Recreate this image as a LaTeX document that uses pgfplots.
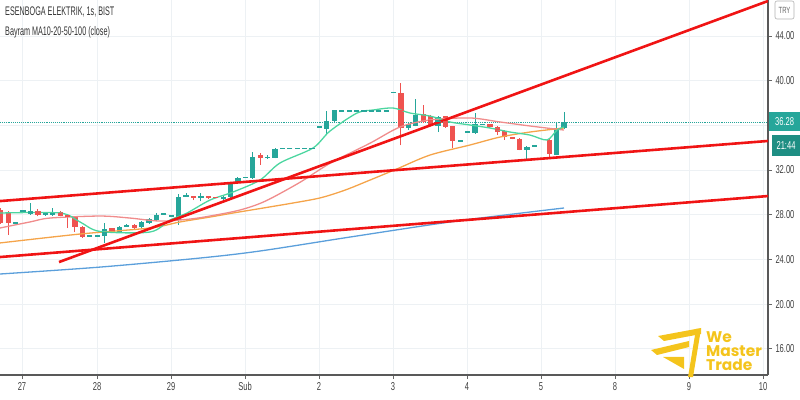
\documentclass[border=0pt]{standalone}
\usepackage{pgfplots}
\usepackage{pgfplotstable}
\pgfplotsset{compat=1.18}
\usepackage{fontspec}
\setmainfont{Liberation Sans}
\newfontfamily\cond[FakeStretch=0.66]{Liberation Sans}
\newfontfamily\condt[FakeStretch=0.58]{Liberation Sans}
\newfontfamily\pop{Poppins}
\newcommand\tickf{\cond\fontsize{11.5}{12}\selectfont}
\definecolor{upc}{HTML}{26A69A}
\definecolor{dnc}{HTML}{EF5350}
\definecolor{ma10}{HTML}{4CD6A0}
\definecolor{ma20}{HTML}{F08C8C}
\definecolor{ma50}{HTML}{F5A44A}
\definecolor{ma100}{HTML}{5B9FDB}
\definecolor{trend}{HTML}{F01414}
\definecolor{gridc}{HTML}{EDF1F4}
\definecolor{wm}{HTML}{F4C41C}
\definecolor{tag2}{HTML}{1E8E83}

\pgfplotstableread{
x o h l c
15.6 27.26 27.26 27.26 27.26
23.0 28.33 28.33 28.33 28.33
30.4 28.06 29.05 28.00 28.33
45.3 27.97 28.20 27.90 28.15
52.7 27.97 28.60 27.90 28.24
89.7 26.09 26.09 26.09 26.09
97.1 26.09 26.09 26.09 26.09
104.5 26.10 27.26 25.50 26.70
119.4 26.40 26.95 26.35 26.90
126.8 26.95 27.15 26.90 27.10
141.6 26.90 27.40 26.85 27.35
149.0 27.26 27.70 27.20 27.60
156.4 27.50 28.15 27.45 27.97
163.8 28.06 28.06 28.06 28.06
171.2 27.88 27.88 27.88 27.88
178.6 27.52 29.85 27.08 29.58
186.0 29.67 29.94 29.67 29.67
200.9 29.50 29.90 29.20 29.67
223.1 29.40 29.65 29.35 29.60
230.5 29.58 30.90 29.50 30.83
237.9 30.83 31.35 30.80 31.30
245.3 31.30 31.30 31.30 31.30
252.7 31.30 33.60 31.20 33.20
267.5 33.10 33.30 33.00 33.20
275.0 33.10 34.00 33.05 33.90
282.4 33.90 33.90 33.90 33.90
289.8 33.90 33.90 33.90 33.90
297.2 33.90 33.90 33.90 33.90
304.6 33.90 33.90 33.90 33.90
312.0 33.90 33.90 33.90 33.90
319.4 35.85 35.85 35.85 35.85
326.8 35.70 37.30 35.20 36.40
334.2 36.40 37.40 36.30 37.37
341.6 37.28 37.28 37.28 37.28
349.1 37.28 37.28 37.28 37.28
356.5 37.28 37.28 37.28 37.28
363.9 37.28 37.28 37.28 37.28
371.3 37.28 37.28 37.28 37.28
378.7 37.28 37.28 37.28 37.28
386.1 37.28 37.28 37.28 37.28
393.5 38.90 38.90 38.90 38.90
408.3 35.75 36.30 35.60 36.15
415.7 35.95 38.40 35.90 36.95
438.0 35.95 36.80 35.40 36.75
460.2 34.60 34.60 34.60 34.60
467.6 35.40 35.40 35.40 35.40
475.0 35.30 37.10 35.25 36.10
482.4 36.10 36.10 36.10 36.10
526.9 33.80 34.15 32.90 34.10
534.3 34.15 34.15 34.15 34.15
556.5 33.35 36.20 33.30 35.75
564.0 35.75 37.19 35.70 36.28
}\upT

\pgfplotstableread{
x o h l c
0.8 28.40 28.60 27.20 27.30
8.2 28.15 28.30 26.20 27.26
37.9 28.33 28.50 27.85 27.97
60.1 28.24 28.30 27.85 27.90
67.5 27.97 28.00 26.80 27.80
74.9 27.80 27.85 26.45 26.90
82.3 26.90 26.95 25.95 26.00
111.9 26.80 26.85 26.35 26.40
134.2 27.10 27.15 26.75 26.80
193.5 29.67 29.70 29.30 29.50
208.3 29.67 29.70 29.45 29.50
215.7 29.50 29.50 29.50 29.50
260.1 33.30 33.50 32.45 33.10
400.9 38.90 39.80 34.20 35.80
423.2 37.00 37.80 36.20 36.30
430.6 36.80 36.90 35.90 36.00
445.4 36.80 36.85 35.80 35.85
452.8 35.90 35.95 33.97 34.60
489.9 36.10 36.15 35.80 35.85
497.3 35.85 35.90 35.13 35.40
504.7 35.50 35.55 34.70 34.95
512.1 34.95 35.00 34.75 34.80
519.5 34.80 34.85 33.75 33.80
549.1 34.70 34.75 33.20 33.40
}\dnT

\begin{document}
\begin{tikzpicture}
\useasboundingbox (0,-25bp) rectangle (800bp,375bp);
\begin{axis}[
  at={(0,0)}, anchor=south west,
  scale only axis, width=768bp, height=375bp,
  xmin=0, xmax=768, ymin=13.65, ymax=47.22,
  axis x line*=bottom, axis y line*=right,
  axis line style={draw=black!65, line width=1.3bp},
  xtick={22,97,171,245,319,393,467,541,615,689,763},
  xticklabels={27,28,29,Sub,2,3,4,5,8,9,10},
  ytick={16,20,24,28,32,36,40,44},
  yticklabels={16.00,20.00,24.00,28.00,32.00,,40.00,44.00},
  ticklabel style={font=\tickf, text=black!75},
  tick align=outside, major tick length=4bp,
  tick style={draw=black!60, line width=0.8bp},
  grid=major, major grid style={draw=gridc, line width=0.8bp},
]
% current price line
\addplot[upc, densely dotted, line width=0.9bp] coordinates {(0,36.28) (768,36.28)};
% wicks
\addplot[draw=none, mark=none, forget plot, error bars/.cd, y dir=plus, y explicit, error mark=none,
  error bar style={line width=1bp, draw=upc}]
  table[x=x, y=l, y error plus expr=\thisrow{h}-\thisrow{l}] {\upT};
\addplot[draw=none, mark=none, forget plot, error bars/.cd, y dir=plus, y explicit, error mark=none,
  error bar style={line width=1bp, draw=dnc}]
  table[x=x, y=l, y error plus expr=\thisrow{h}-\thisrow{l}] {\dnT};
% bodies
\addplot[only marks, mark=-, mark size=2.6bp, mark options={draw=upc, line width=1.1bp},
  error bars/.cd, y dir=both, y explicit, error mark=none,
  error bar style={line width=5.2bp, draw=upc}]
  table[x=x, y expr=(\thisrow{o}+\thisrow{c})/2, y error expr=abs(\thisrow{c}-\thisrow{o})/2] {\upT};
\addplot[only marks, mark=-, mark size=2.6bp, mark options={draw=dnc, line width=1.1bp},
  error bars/.cd, y dir=both, y explicit, error mark=none,
  error bar style={line width=5.2bp, draw=dnc}]
  table[x=x, y expr=(\thisrow{o}+\thisrow{c})/2, y error expr=abs(\thisrow{c}-\thisrow{o})/2] {\dnT};
% moving averages
\addplot[ma100, line width=1.3bp, smooth] coordinates {(0,22.69) (100,23.31) (200,24.12) (260,24.75) (350,26.0) (450,27.35) (530,28.24) (564,28.6)};
\addplot[ma50, line width=1.3bp, smooth] coordinates {(0,25.47) (80,26.27) (150,26.81) (180,27.35) (210,27.79) (233,28.15) (260,28.55) (290,29.0) (320,29.5) (345,30.2) (370,31.1) (397,32.10) (430,33.34) (470,34.24) (500,34.95) (530,35.40) (555,35.67) (564,35.76)};
\addplot[ma20, line width=1.3bp, smooth] coordinates {(0,26.81) (30,27.35) (50,27.70) (100,27.88) (130,27.70) (160,27.43) (190,27.61) (210,27.88) (240,28.42) (265,29.2) (300,30.9) (330,32.6) (370,34.4) (400,35.85) (430,36.48) (470,36.66) (500,36.30) (530,35.94) (555,35.67) (564,35.58)};
\addplot[ma10, line width=1.3bp, smooth] coordinates {(0,28.15) (60,28.15) (80,27.35) (100,26.50) (150,26.45) (170,27.52) (187,28.15) (210,29.31) (233,30.03) (260,31.1) (280,32.63) (313,33.97) (330,35.49) (357,37.10) (373,37.37) (393,37.55) (410,37.10) (430,36.83) (450,36.30) (470,36.03) (490,35.76) (510,35.40) (530,35.13) (547,34.69) (557,35.58) (564,35.85)};
% trend lines
\addplot[trend, line width=2.6bp] coordinates {(0,24.21) (768,29.67)};
\addplot[trend, line width=2.6bp] coordinates {(0,29.22) (768,34.60)};
\addplot[trend, line width=2.6bp] coordinates {(59,23.76) (768,47.13)};
\end{axis}
% titles
\node[anchor=west, inner sep=0, text=black!80, font=\condt\fontsize{12.5}{13}\selectfont] at (5bp,363bp) {ESENBOGA ELEKTRIK, 1s, BIST};
\node[anchor=west, inner sep=0, text=black!80, font=\condt\fontsize{12.5}{13}\selectfont] at (5bp,343bp) {Bayram MA10-20-50-100 (close)};
% price tags
\fill[upc] (769bp,243.5bp) rectangle (800bp,262.5bp);
\node[text=white, inner sep=0, font=\tickf] at (784.5bp,253bp) {36.28};
\fill[tag2] (772bp,219bp) rectangle (800bp,240bp);
\node[text=white, inner sep=0, font=\tickf] at (786bp,229.5bp) {21:44};
% currency box
\draw[black!30, fill=white, rounded corners=2bp, line width=0.6bp] (775bp,356bp) rectangle (794bp,374bp);
\node[text=black!60, inner sep=0, font=\cond\fontsize{9}{10}\selectfont] at (784.5bp,365bp) {TRY};
% watermark
\fill[wm] (658bp,39bp) -- (701bp,47bp) -- (701bp,41bp) -- (664bp,34bp) -- cycle;
\fill[wm] (696bp,46bp) -- (701bp,46bp) -- (693bp,-2bp) -- (688bp,-2bp) -- cycle;
\fill[wm] (651bp,25bp) -- (689bp,34bp) -- (689bp,28bp) -- (657bp,20bp) -- cycle;
\fill[wm] (663bp,18bp) -- (684bp,18bp) -- (684bp,6bp) -- cycle;
\node[anchor=west, inner sep=0, text=wm, font=\pop\bfseries\fontsize{15.5}{16}\selectfont] at (706bp,38bp) {We};
\node[anchor=west, inner sep=0, text=wm, font=\pop\bfseries\fontsize{15.5}{16}\selectfont] at (706bp,24bp) {Master};
\node[anchor=west, inner sep=0, text=wm, font=\pop\bfseries\fontsize{15.5}{16}\selectfont] at (706bp,10bp) {Trade};
\end{tikzpicture}
\end{document}
